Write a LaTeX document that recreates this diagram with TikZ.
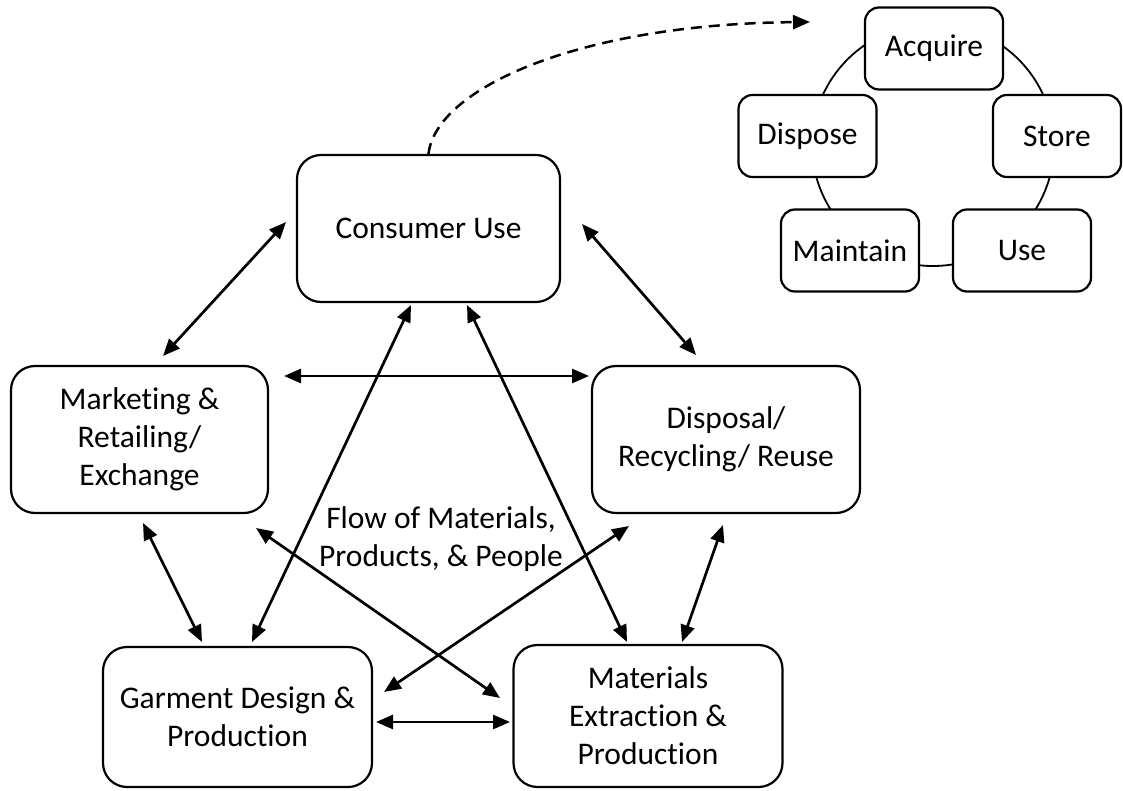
\documentclass[tikz,border=0pt]{standalone}
\usepackage{fontspec}
\setmainfont{Carlito}[Ligatures=NoCommon]
\usetikzlibrary{arrows.meta}
\begin{document}
\begin{tikzpicture}[x=1pt,y=-1pt,
  >={Triangle[length=17pt,width=14pt]},
  boxtext/.style={font=\fontsize{31.5}{38}\selectfont},
  bigbox/.style={draw, line width=2.2pt, rounded corners=24pt, fill=white,
    align=center, inner sep=0pt, boxtext},
  smallbox/.style={draw, line width=2.2pt, rounded corners=14pt, fill=white,
    minimum width=138pt, minimum height=82pt, inner sep=0pt, boxtext},
  link/.style={<->, line width=2.7pt},
  ring/.style={line width=1.8pt}]
\useasboundingbox (0,0) rectangle (1123,791);

% ---- main life-cycle stages ----
\node[bigbox, minimum width=263pt, minimum height=147pt] (cu) at (428.5,228.5) {Consumer Use};
\node[bigbox, minimum width=257pt, minimum height=147pt] (mk) at (139.5,439.5) {Marketing \&\\Retailing/\\Exchange};
\node[bigbox, minimum width=268pt, minimum height=147pt] (dr) at (726,439.5) {Disposal/\\Recycling/ Reuse};
\node[bigbox, minimum width=269pt, minimum height=140pt] (gd) at (237.5,717) {Garment Design \&\\Production};
\node[bigbox, minimum width=269pt, minimum height=142pt] (me) at (648,716) {Materials\\Extraction \&\\Production};

\node[boxtext, align=center] (flow) at (441,539) {Flow of Materials,\\Products, \& People};

% ---- consumer activity cycle ----
\draw[ring] (933,145) circle[radius=121pt];
\node[smallbox] (aq) at (934,48.5) {Acquire};
\node[smallbox, minimum width=128pt] (st) at (1057,136) {Store};
\node[smallbox] (us) at (1022,250.5) {Use};
\node[smallbox] (mt) at (850,250.5) {Maintain};
\node[smallbox] (dp) at (807.5,136) {Dispose};

% ---- connector end points ----
\coordinate (cuA) at (286,222);   \coordinate (mkA) at (163,356);
\coordinate (cuB) at (582,224);   \coordinate (drA) at (696,355);
\coordinate (mkB) at (284,376);   \coordinate (drB) at (589,376);
\coordinate (cuC) at (411,305);   \coordinate (gdA) at (252,642);
\coordinate (cuD) at (467,305);   \coordinate (meA) at (627,642);
\coordinate (mkC) at (143,523);   \coordinate (gdB) at (202,642);
\coordinate (mkD) at (256,528);   \coordinate (meB) at (500,698);
\coordinate (drC) at (629,526);   \coordinate (gdC) at (384,692);
\coordinate (drD) at (723,525);   \coordinate (meC) at (682,642);
\coordinate (gdD) at (376,722);   \coordinate (meD) at (510,722);
\coordinate (cyc) at (810,22);

% ---- two-way flows ----
\draw[link] (cuA) -- (mkA);
\draw[link] (cuB) -- (drA);
\draw[link] (mkB) -- (drB);
\draw[link] (cuC) -- (gdA);
\draw[link] (cuD) -- (meA);
\draw[link] (mkC) -- (gdB);
\draw[link] (mkD) -- (meB);
\draw[link] (drC) -- (gdC);
\draw[link] (drD) -- (meC);
\draw[link] (gdD) -- (meD);

% ---- consumer use expands into the activity cycle ----
\draw[->, line width=2.5pt, dash pattern=on 11pt off 7pt]
  (cu.north) .. controls (436,88) and (580,24) .. (cyc);
\end{tikzpicture}
\end{document}
